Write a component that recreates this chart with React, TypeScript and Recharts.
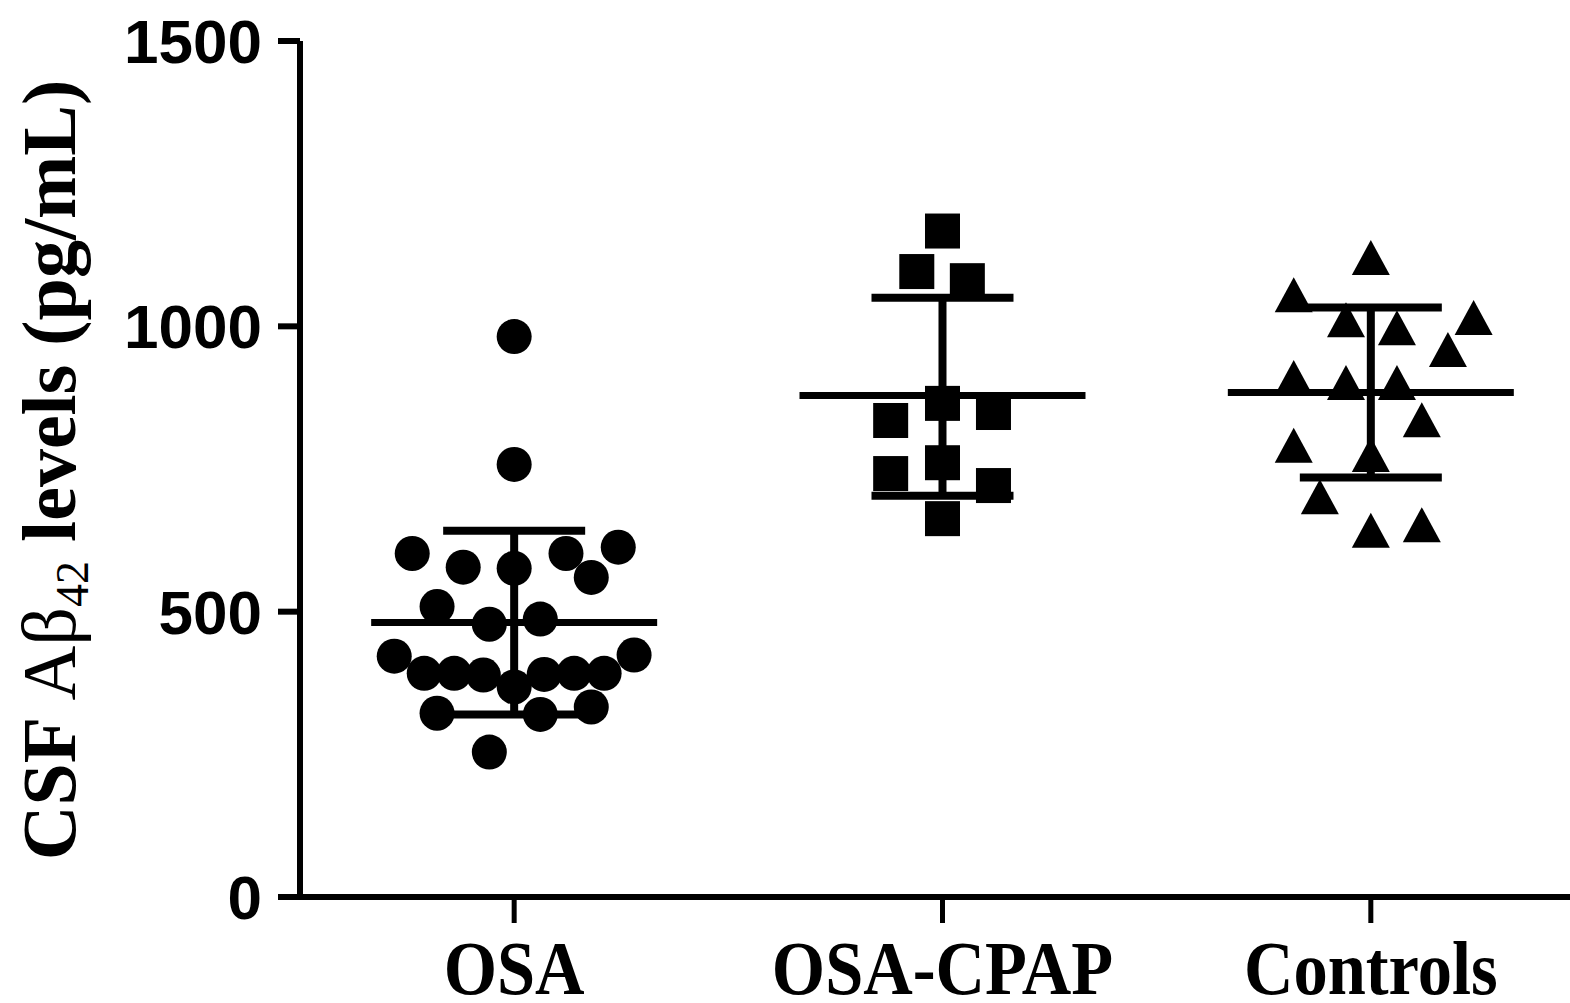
import React from 'react';
import { ScatterChart, Scatter, XAxis, YAxis, ErrorBar } from 'recharts';

const groupNames = ['OSA', 'OSA-CPAP', 'Controls'];
const yTicks = [0, 500, 1000, 1500];

const osaOffsets = [0, 0, -0.238, -0.119, 0, 0.121, 0.18, 0.243, -0.18, -0.058, 0.061, -0.28, -0.21, -0.14, -0.072, 0, 0.07, 0.14, 0.21, 0.28, -0.18, 0.061, 0.18, -0.058];
const osaValues = [982, 758, 602, 578, 576, 602, 560, 613, 509, 478, 487, 422, 392, 392, 389, 368, 390, 392, 392, 424, 322, 320, 333, 254];

const cpapOffsets = [0, -0.06, 0.058, 0, -0.121, 0.119, 0, -0.121, 0.119, 0];
const cpapValues = [1167, 1096, 1080, 865, 835, 849, 761, 742, 721, 663];

const ctrlOffsets = [0, -0.18, 0.24, -0.058, 0.061, 0.18, -0.18, -0.058, 0.061, 0.119, -0.18, 0, -0.119, 0, 0.119];
const ctrlValues = [1110, 1045, 1005, 1001, 987, 949, 900, 891, 891, 826, 781, 765, 691, 632, 642];

const means = [481, 879, 884];
const sdLow = [161, 176, 149];
const sdHigh = [161, 171, 149];

const build = (group: number, offsets: number[], values: number[]) =>
  values.map((v, i) => ({ x: group + offsets[i], y: v }));

const osaData = build(1, osaOffsets, osaValues);
const cpapData = build(2, cpapOffsets, cpapValues);
const ctrlData = build(3, ctrlOffsets, ctrlValues);
const summaryData = means.map((m, i) => ({ x: i + 1, y: m, err: [sdLow[i], sdHigh[i]] }));

const CircleShape = (p: any) => <circle cx={p.cx} cy={p.cy} r={17.5} fill="#000" />;
const SquareShape = (p: any) => <rect x={p.cx - 17.5} y={p.cy - 17.5} width={35} height={35} fill="#000" />;
const TriangleShape = (p: any) => (
  <path d={`M${p.cx},${p.cy - 23.5} L${p.cx + 19},${p.cy + 11.5} L${p.cx - 19},${p.cy + 11.5} Z`} fill="#000" />
);
const MeanShape = (p: any) => (
  <line x1={p.cx - 143} x2={p.cx + 143} y1={p.cy} y2={p.cy} stroke="#000" strokeWidth={7} />
);

const XTick = (p: any) => (
  <g transform={`translate(${p.x},${p.y + 69})`}>
    <text
      transform="scale(0.89,1)"
      textAnchor="middle"
      fontFamily="'Liberation Serif', 'Times New Roman', serif"
      fontWeight={700}
      fontSize={77}
      fill="#000"
    >
      {groupNames[Math.round(p.payload.value) - 1]}
    </text>
  </g>
);

const YTitle = () => (
  <text
    x={75}
    y={470}
    transform="rotate(-90, 75, 470)"
    textAnchor="middle"
    fontFamily="'Liberation Serif', 'Times New Roman', serif"
    fontWeight={700}
    fontSize={76}
    fill="#000"
  >
    CSF <tspan fontWeight={400}>Aβ</tspan>
    <tspan fontWeight={400} fontSize={46} dy={13}>42</tspan>
    <tspan dy={-13}> levels (pg/mL)</tspan>
  </text>
);

export default function App() {
  return (
    <div style={{ position: 'absolute', left: 0, top: 0, width: 1570, height: 1003, background: '#fff' }}>
      <ScatterChart width={1570} height={1003} margin={{ top: 41, right: 0, bottom: 0, left: 0 }}>
        <XAxis
          type="number"
          dataKey="x"
          domain={[0.5, 3.465]}
          allowDataOverflow
          ticks={[1, 2, 3]}
          tick={<XTick />}
          tickSize={26}
          height={106}
          axisLine={{ stroke: '#000', strokeWidth: 6 }}
          tickLine={{ stroke: '#000', strokeWidth: 5 }}
        />
        <YAxis
          type="number"
          dataKey="y"
          domain={[0, 1500]}
          allowDataOverflow
          ticks={yTicks}
          width={300}
          tickSize={22}
          tickMargin={16}
          axisLine={{ stroke: '#000', strokeWidth: 6 }}
          tickLine={{ stroke: '#000', strokeWidth: 6 }}
          tick={{ fontFamily: "'Liberation Sans', Arial, sans-serif", fontWeight: 700, fontSize: 62, fill: '#000' }}
          label={{ content: () => <YTitle /> }}
        />
        <Scatter data={osaData} shape={<CircleShape />} isAnimationActive={false} />
        <Scatter data={cpapData} shape={<SquareShape />} isAnimationActive={false} />
        <Scatter data={ctrlData} shape={<TriangleShape />} isAnimationActive={false} />
        <Scatter data={summaryData} shape={<MeanShape />} isAnimationActive={false}>
          <ErrorBar dataKey="err" direction="y" width={71} stroke="#000" strokeWidth={8} />
        </Scatter>
      </ScatterChart>
    </div>
  );
}
